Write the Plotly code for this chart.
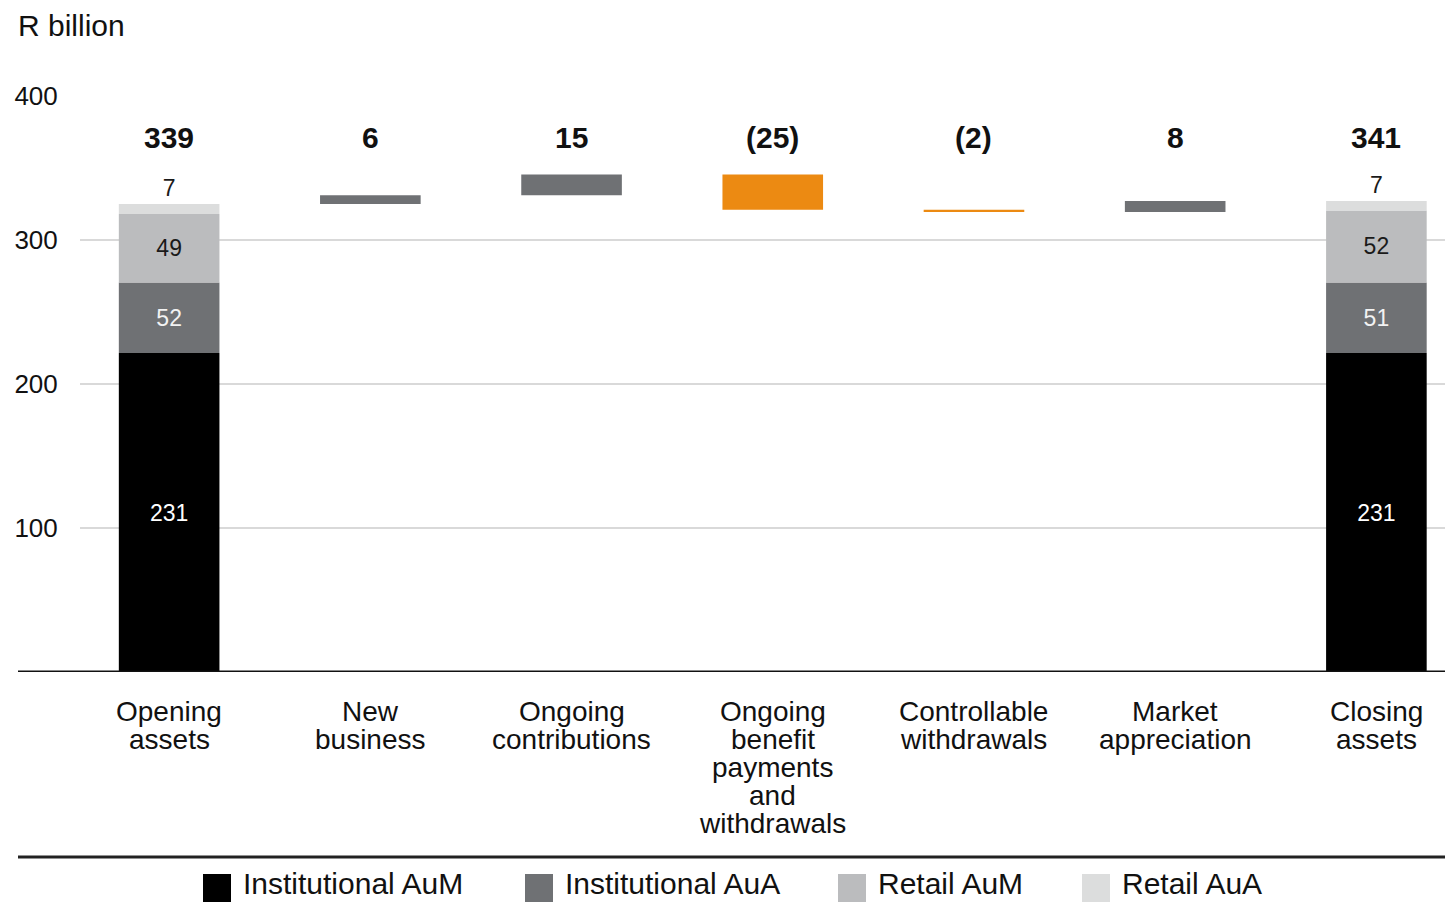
import numpy as np
import plotly.graph_objects as go

# ---------------- data ----------------
categories = ["Opening\nassets", "New\nbusiness", "Ongoing\ncontributions",
              "Ongoing\nbenefit\npayments\nand\nwithdrawals", "Controllable\nwithdrawals",
              "Market\nappreciation", "Closing\nassets"]
series_names = ["Institutional AuM", "Institutional AuA", "Retail AuM", "Retail AuA"]
# bar heights as drawn in the picture (R billion)
opening_parts = [221.5, 49.0, 47.5, 7.0]
closing_parts = [221.5, 49.0, 50.0, 6.5]
movement_values = [6.0, 14.5, -24.5, -1.5, 7.5]
# printed labels
opening_part_labels = ["231", "52", "49", "7"]
closing_part_labels = ["231", "51", "52", "7"]
total_labels = ["339", "6", "15", "(25)", "(2)", "8", "341"]
y_ticks = [100, 200, 300, 400]

# ---------------- style ----------------
FONT = "Liberation Sans, Arial, sans-serif"
series_colors = ["#000000", "#6f7174", "#bbbcbe", "#dcdddd"]
inside_text_colors = ["#ffffff", "#f2f2f2", "#1a1a1a", "#1a1a1a"]
up_color = "#6f7174"
down_color = "#ec8a12"
W, H = 1445, 903
L, R, T, B = 80, 0, 96, 231
plot_w = W - L - R
plot_h = H - T - B


def px_x(px):
    return (px - L) / plot_w


def px_y(py):
    return (H - B - py) / plot_h


n = len(categories)
xi = list(range(n))
fig = go.Figure()

open_base = np.concatenate([[0], np.cumsum(opening_parts)[:-1]])
close_base = np.concatenate([[0], np.cumsum(closing_parts)[:-1]])
for i, name in enumerate(series_names):
    fig.add_trace(go.Bar(
        x=[xi[0], xi[-1]], y=[opening_parts[i], closing_parts[i]],
        base=[open_base[i], close_base[i]], name=name, width=0.5,
        marker=dict(color=series_colors[i], line=dict(width=0)),
        text=[opening_part_labels[i], closing_part_labels[i]],
        textposition="outside" if i == len(series_names) - 1 else "inside",
        insidetextanchor="middle", constraintext="none",
        insidetextfont=dict(family=FONT, size=23, color=inside_text_colors[i]),
        outsidetextfont=dict(family=FONT, size=23, color="#1a1a1a"),
        cliponaxis=False, hoverinfo="skip", showlegend=False,
    ))

start_total = float(np.sum(opening_parts))
running = start_total + np.cumsum(movement_values)
move_base = np.concatenate([[start_total], running[:-1]])
fig.add_trace(go.Bar(
    x=xi[1:-1], y=movement_values, base=move_base, width=0.5,
    marker=dict(color=[up_color if v >= 0 else down_color for v in movement_values],
                line=dict(width=0)),
    hoverinfo="skip", showlegend=False,
))

annotations = []
# totals on top
for i, t in enumerate(total_labels):
    annotations.append(dict(x=xi[i], xref="x", y=px_y(138), yref="paper", text=f"<b>{t}</b>",
                            showarrow=False, xanchor="center", yanchor="middle",
                            font=dict(family=FONT, size=30, color="#111111")))
# category labels (line by line, tight spacing)
for i, cat in enumerate(categories):
    for j, line in enumerate(cat.split("\n")):
        annotations.append(dict(x=xi[i], xref="x", y=px_y(711 + 28 * j), yref="paper", text=line,
                                showarrow=False, xanchor="center", yanchor="middle",
                                font=dict(family=FONT, size=28, color="#111111")))
# unit title
annotations.append(dict(x=px_x(16), xref="paper", y=px_y(25), yref="paper", text="R billion",
                        showarrow=False, xanchor="left", yanchor="middle",
                        font=dict(family=FONT, size=30, color="#111111")))

shapes = []
# baseline and bottom rule
shapes.append(dict(type="line", xref="paper", yref="y", x0=px_x(18), x1=1, y0=0, y1=0,
                   line=dict(color="#111111", width=3)))
shapes.append(dict(type="line", xref="paper", yref="paper", x0=px_x(18), x1=1,
                   y0=px_y(857), y1=px_y(857), line=dict(color="#222222", width=3)))
# manual legend
legend_x = [203, 525, 838, 1082]
for k, name in enumerate(series_names):
    shapes.append(dict(type="rect", xref="paper", yref="paper",
                       x0=px_x(legend_x[k]), x1=px_x(legend_x[k] + 28),
                       y0=px_y(874), y1=px_y(902), fillcolor=series_colors[k], line=dict(width=0)))
    annotations.append(dict(x=px_x(legend_x[k] + 38), xref="paper", y=px_y(883), yref="paper",
                            text=name, showarrow=False, xanchor="left", yanchor="middle",
                            font=dict(family=FONT, size=30, color="#111111")))

fig.update_layout(
    width=W, height=H, margin=dict(l=L, r=R, t=T, b=B, pad=0),
    paper_bgcolor="white", plot_bgcolor="white", barmode="overlay",
    showlegend=False, annotations=annotations, shapes=shapes,
    font=dict(family=FONT, color="#111111"),
    xaxis=dict(range=[-0.443, 6.341], showticklabels=False, showgrid=False, zeroline=False,
               showline=False, ticks="", fixedrange=True),
    yaxis=dict(range=[0, 400], tickvals=y_ticks, ticktext=[str(v) for v in y_ticks],
               showgrid=True, gridcolor="#d9d9d9", gridwidth=2, zeroline=False, showline=False,
               ticks="outside", ticklen=16, tickcolor="rgba(0,0,0,0)",
               tickfont=dict(family=FONT, size=26, color="#111111"), fixedrange=True),
)

fig.write_html("out.html")
